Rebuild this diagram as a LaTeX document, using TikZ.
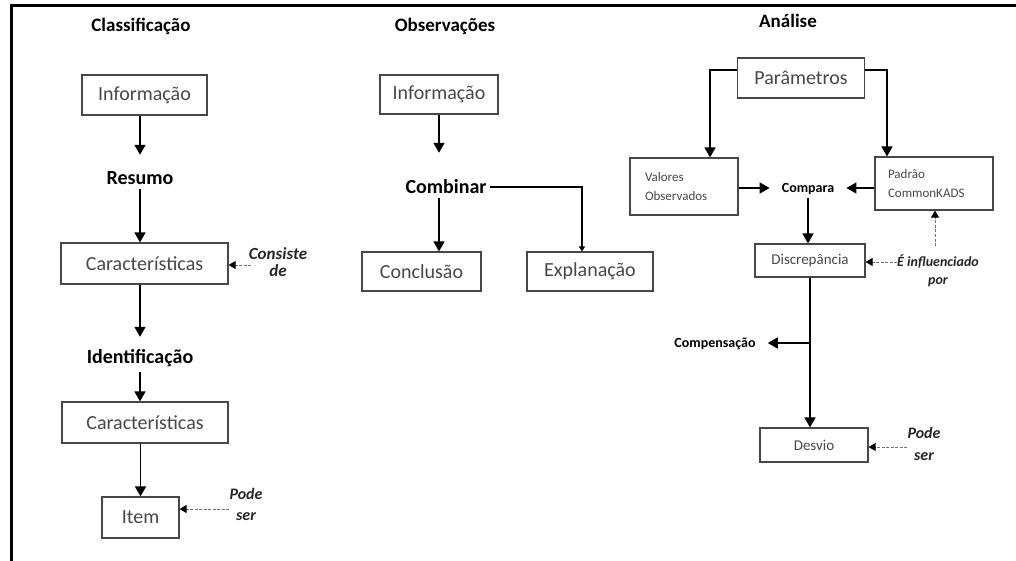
\documentclass[tikz,border=0pt]{standalone}
\usepackage{fontspec}
\setmainfont{Carlito}
\usetikzlibrary{arrows.meta}
\begin{document}
\begin{tikzpicture}[x=1pt,y=-1pt,
  box/.style={draw=black!72, line width=1.2pt, text=black!72, inner sep=0pt,
    font=\fontsize{20}{24}\selectfont},
  midbox/.style={box, font=\fontsize{15}{18}\selectfont},
  twoline/.style={box, font=\fontsize{13}{19}\selectfont, align=left, inner ysep=0pt},
  heading/.style={font=\bfseries\fontsize{19}{22}\selectfont, inner sep=0pt},
  stage/.style={font=\bfseries\fontsize{20}{24}\selectfont, inner sep=0pt,
    text height=13pt, text depth=0pt},
  keyword/.style={font=\bfseries\fontsize{14}{17}\selectfont, inner ysep=0pt,
    inner xsep=12pt, text height=9pt, text depth=0pt},
  note/.style={font=\bfseries\itshape\fontsize{16}{21}\selectfont, align=center,
    inner sep=0pt, text=black!85},
  smallnote/.style={note, font=\bfseries\itshape\fontsize{14}{18}\selectfont},
  arr/.style={-{Triangle[length=10pt,width=11pt]}, line width=1.6pt},
  dasharr/.style={-{Triangle[length=7pt,width=8pt,color=black]}, line width=1pt,
    draw=black!55, dash pattern=on 3pt off 1.5pt},
]
\useasboundingbox (0,0) rectangle (1016,561);

% outer frame (left and top edges)
\draw[line width=3pt] (11.5,561) -- (11.5,5.5) -- (1016,5.5);

% ---------- Classificação ----------
\node[heading] (h1) at (141,26) {Classificação};
\node[box, minimum width=125pt, minimum height=40pt] (inf1) at (144.5,95) {Informação};
\node[stage] (resumo) at (140,178) {Resumo};
\node[box, minimum width=167pt, minimum height=41pt] (car1) at (144.5,263.5) {Características};
\node[note, font=\bfseries\itshape\fontsize{17}{17}\selectfont] (consiste) at (278,262) {Consiste\\de};
\node[stage] (ident) at (140,357) {Identificação};
\node[box, minimum width=166pt, minimum height=41pt] (car2) at (145,422.5) {Características};
\node[box, minimum width=77pt, minimum height=41pt] (item) at (140.5,517.5) {Item};
\node[note] (pode1) at (246,504) {Pode\\ser};

\draw[arr, shorten >=16.5pt] (inf1.south -| resumo) -- (resumo.north);
\draw[arr, shorten <=4pt] (resumo.south) -- (car1.north -| resumo);
\draw[arr, shorten >=13.5pt] (car1.south -| ident) -- (ident.north);
\draw[arr, shorten <=8pt] (ident.south) -- (car2.north -| ident);
\draw[arr] (car2.south -| item) -- (item.north);

\coordinate (cs) at (251,265);
\draw[dasharr] (cs) -- (cs -| car1.east);
\coordinate (ps1) at (229,509);
\draw[dasharr] (ps1) -- (ps1 -| item.east);

% ---------- Observações ----------
\node[heading] (h2) at (445,26) {Observações};
\node[box, minimum width=118pt, minimum height=39pt] (inf2) at (439,94.5) {Informação};
\node[stage] (comb) at (446,187) {Combinar};
\node[box, minimum width=119pt, minimum height=39pt] (concl) at (421.5,271.5) {Conclusão};
\node[box, minimum width=126pt, minimum height=39pt] (expl) at (590,271.5) {Explanação};

\draw[arr, shorten >=27.5pt] (inf2.south) -- (inf2.south |- comb.north);
\draw[arr, shorten <=4.5pt] (comb.south -| inf2) -- (concl.north -| inf2);
\draw[line width=1.4pt, -{Triangle[length=5pt,width=6pt]}, shorten <=3pt]
  (comb.east) -| ([xshift=-8pt]expl.north);

% ---------- Análise ----------
\node[heading] (h3) at (788,21) {Análise};
\node[box, minimum width=127pt, minimum height=40pt] (param) at (801,78) {Parâmetros};
\node[twoline, text width=78pt, inner xsep=15pt, minimum height=57pt] (valores) at (684,186.5) {Valores\\Observados};
\node[twoline, text width=92pt, inner xsep=13pt, minimum height=53pt] (padrao) at (934,183.5) {Padrão\\CommonKADS};
\node[keyword] (compara) at (808,188) {Compara};
\node[midbox, minimum width=110pt, minimum height=33pt] (discrep) at (810,260.5) {Discrepância};
\node[smallnote] (influ) at (938,271) {É influenciado\\por};
\node[keyword] (comp) at (715,343) {Compensação};
\node[midbox, minimum width=108pt, minimum height=34pt] (desvio) at (814,445) {Desvio};
\node[note, font=\bfseries\itshape\fontsize{16}{22}\selectfont] (pode2) at (924,444) {Pode\\ser};

\draw[arr] ([yshift=8pt]param.west) -| ([xshift=26pt]valores.north);
\draw[arr] ([yshift=8pt]param.east) -| ([xshift=-47pt]padrao.north);
\draw[arr] (valores.east |- compara) -- (compara.west);
\draw[arr] (padrao.west |- compara) -- (compara.east);
\draw[arr, shorten <=5pt] (compara.south) -- (compara.south |- discrep.north);
\draw[arr] (discrep.south) -- (discrep.south |- desvio.north);
\draw[arr] (discrep.south |- comp) -- (comp.east);

\coordinate (ifl) at (897,262);
\draw[dasharr] (ifl) -- (ifl -| discrep.east);
\coordinate (ifu) at (935,246);
\draw[dasharr] (ifu) -- (ifu |- padrao.south);
\coordinate (ps2) at (907,447);
\draw[dasharr] (ps2) -- (ps2 -| desvio.east);
\end{tikzpicture}
\end{document}
